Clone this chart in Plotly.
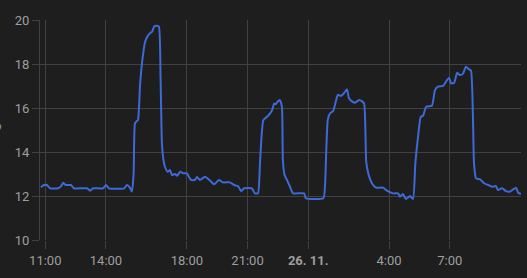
import plotly.graph_objects as go

# timestamps (25.–26. 11.) and temperature readings
times = [
    "2024-11-25 10:47", "2024-11-25 10:56", "2024-11-25 11:05", "2024-11-25 11:14", "2024-11-25 11:38",
    "2024-11-25 11:47", "2024-11-25 11:53", "2024-11-25 12:01", "2024-11-25 12:16", "2024-11-25 12:25",
    "2024-11-25 13:04", "2024-11-25 13:13", "2024-11-25 13:22", "2024-11-25 13:51", "2024-11-25 14:00",
    "2024-11-25 14:09", "2024-11-25 14:54", "2024-11-25 15:02", "2024-11-25 15:11", "2024-11-25 15:17",
    "2024-11-25 15:22", "2024-11-25 15:26", "2024-11-25 15:31", "2024-11-25 15:35", "2024-11-25 15:41",
    "2024-11-25 15:47", "2024-11-25 15:56", "2024-11-25 16:05", "2024-11-25 16:11", "2024-11-25 16:17",
    "2024-11-25 16:23", "2024-11-25 16:31", "2024-11-25 16:37", "2024-11-25 16:42", "2024-11-25 16:46",
    "2024-11-25 16:51", "2024-11-25 16:55", "2024-11-25 17:03", "2024-11-25 17:10", "2024-11-25 17:16",
    "2024-11-25 17:25", "2024-11-25 17:31", "2024-11-25 17:40", "2024-11-25 17:49", "2024-11-25 18:00",
    "2024-11-25 18:12", "2024-11-25 18:24", "2024-11-25 18:30", "2024-11-25 18:39", "2024-11-25 18:54",
    "2024-11-25 19:09", "2024-11-25 19:21", "2024-11-25 19:35", "2024-11-25 19:47", "2024-11-25 20:08",
    "2024-11-25 20:20", "2024-11-25 20:32", "2024-11-25 20:41", "2024-11-25 20:50", "2024-11-25 21:13",
    "2024-11-25 21:22", "2024-11-25 21:31", "2024-11-25 21:37", "2024-11-25 21:47", "2024-11-25 21:58",
    "2024-11-25 22:07", "2024-11-25 22:13", "2024-11-25 22:19", "2024-11-25 22:24", "2024-11-25 22:30",
    "2024-11-25 22:36", "2024-11-25 22:42", "2024-11-25 22:45", "2024-11-25 22:50", "2024-11-25 22:57",
    "2024-11-25 23:06", "2024-11-25 23:15", "2024-11-25 23:48", "2024-11-25 23:53", "2024-11-26 00:45",
    "2024-11-26 00:50", "2024-11-26 00:58", "2024-11-26 01:05", "2024-11-26 01:14", "2024-11-26 01:23",
    "2024-11-26 01:28", "2024-11-26 01:37", "2024-11-26 01:46", "2024-11-26 01:55", "2024-11-26 02:01",
    "2024-11-26 02:10", "2024-11-26 02:19", "2024-11-26 02:31", "2024-11-26 02:40", "2024-11-26 02:46",
    "2024-11-26 02:52", "2024-11-26 02:56", "2024-11-26 03:01", "2024-11-26 03:09", "2024-11-26 03:21",
    "2024-11-26 03:42", "2024-11-26 03:51", "2024-11-26 04:12", "2024-11-26 04:27", "2024-11-26 04:32",
    "2024-11-26 04:41", "2024-11-26 04:50", "2024-11-26 05:02", "2024-11-26 05:11", "2024-11-26 05:18",
    "2024-11-26 05:26", "2024-11-26 05:34", "2024-11-26 05:41", "2024-11-26 05:50", "2024-11-26 06:07",
    "2024-11-26 06:16", "2024-11-26 06:25", "2024-11-26 06:40", "2024-11-26 06:49", "2024-11-26 06:58",
    "2024-11-26 07:04", "2024-11-26 07:13", "2024-11-26 07:22", "2024-11-26 07:30", "2024-11-26 07:39",
    "2024-11-26 07:48", "2024-11-26 07:57", "2024-11-26 08:03", "2024-11-26 08:12", "2024-11-26 08:18",
    "2024-11-26 08:30", "2024-11-26 08:42", "2024-11-26 08:54", "2024-11-26 09:05", "2024-11-26 09:17",
    "2024-11-26 09:23", "2024-11-26 09:35", "2024-11-26 09:47", "2024-11-26 09:59", "2024-11-26 10:08",
    "2024-11-26 10:17", "2024-11-26 10:23", "2024-11-26 10:31",
]
temps = [
    12.4, 12.5, 12.5, 12.35, 12.35, 12.45, 12.6, 12.5, 12.5, 12.35,
    12.35, 12.24, 12.35, 12.35, 12.5, 12.35, 12.35, 12.5, 12.38, 12.2,
    13.0, 15.3, 15.4, 15.45, 17.0, 18.05, 19.0, 19.3, 19.4, 19.47,
    19.7, 19.74, 19.7, 17.4, 14.4, 13.6, 13.33, 13.1, 13.18, 12.95,
    13.0, 12.92, 13.1, 13.03, 13.03, 12.73, 12.73, 12.86, 12.73, 12.88,
    12.7, 12.53, 12.73, 12.62, 12.62, 12.5, 12.45, 12.22, 12.35, 12.35,
    12.12, 12.12, 13.5, 15.45, 15.6, 15.76, 15.9, 16.2, 16.17, 16.3,
    16.36, 16.06, 13.6, 12.95, 12.73, 12.42, 12.12, 12.12, 11.9, 11.9,
    12.5, 15.45, 15.76, 15.86, 16.36, 16.6, 16.55, 16.67, 16.85, 16.44,
    16.3, 16.24, 16.36, 16.3, 16.2, 13.6, 13.18, 12.88, 12.58, 12.38,
    12.38, 12.27, 12.12, 12.12, 11.97, 12.09, 11.86, 12.0, 11.86, 13.5,
    14.7, 15.6, 15.65, 16.06, 16.1, 16.8, 16.97, 17.0, 17.2, 17.38,
    17.12, 17.15, 17.6, 17.5, 17.55, 17.88, 17.76, 17.7, 13.48, 12.8,
    12.76, 12.58, 12.5, 12.42, 12.45, 12.27, 12.35, 12.22, 12.2, 12.3,
    12.38, 12.15, 12.09,
]

tick_vals = ["2024-11-25 11:00", "2024-11-25 14:00", "2024-11-25 18:00", "2024-11-25 21:00",
             "2024-11-26 00:00", "2024-11-26 04:00", "2024-11-26 07:00"]
tick_text = ["11:00", "14:00", "18:00", "21:00", "<b>26. 11.</b>", "4:00", "7:00"]
y_ticks = [10, 12, 14, 16, 18, 20]

BG = "#1e1e1e"
GRID = "#414141"
TXT = "#9e9e9e"

fig = go.Figure()
fig.add_trace(go.Scatter(
    x=times, y=temps, mode="lines",
    line=dict(color="#3d6ad6", width=2, shape="spline", smoothing=0.5),
    hoverinfo="skip",
))

fig.update_layout(
    width=527, height=278,
    margin=dict(l=40, r=6, t=20, b=38),
    paper_bgcolor=BG, plot_bgcolor=BG,
    showlegend=False,
    font=dict(family="Roboto", size=13, color=TXT),
    xaxis=dict(
        type="date",
        range=["2024-11-25 10:44:18", "2024-11-26 10:31:24"],
        tickvals=tick_vals, ticktext=tick_text,
        showgrid=True, gridcolor=GRID, gridwidth=1,
        ticks="outside", ticklen=8, tickcolor=GRID,
        showline=False, zeroline=False,
        tickfont=dict(family="Roboto", size=13, color=TXT),
    ),
    yaxis=dict(
        range=[10, 20], tickvals=y_ticks,
        showgrid=True, gridcolor=GRID, gridwidth=1,
        ticks="outside", ticklen=7, tickcolor=GRID,
        showline=True, linecolor=GRID, linewidth=1,
        zeroline=False,
        tickfont=dict(family="Roboto", size=13, color=TXT),
    ),
    annotations=[dict(
        text="°C", textangle=-90, xref="paper", yref="paper",
        x=0, y=0.5, xanchor="center", yanchor="middle",
        xshift=-44, showarrow=False,
        font=dict(family="Roboto", size=13, color=TXT),
    )],
)

fig.write_html("out.html")
